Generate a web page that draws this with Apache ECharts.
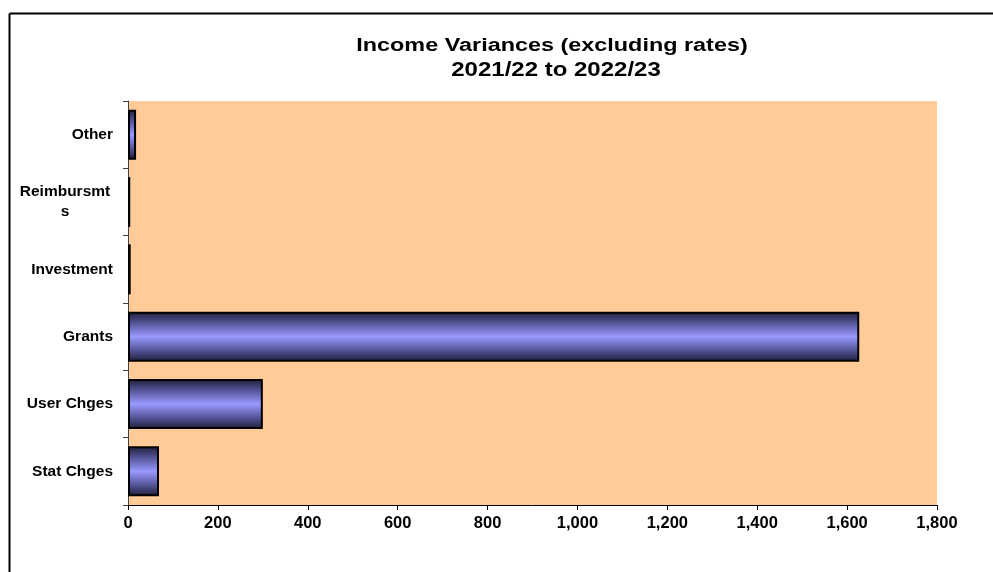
<!DOCTYPE html>
<html>
<head>
<meta charset="utf-8">
<script src="https://cdn.jsdelivr.net/npm/echarts@6/dist/echarts.min.js"></script>
<style>
  html, body { margin: 0; padding: 0; background: #fff; }
  #chart { width: 993px; height: 572px; }
</style>
</head>
<body>
<div id="chart"></div>
<script>
// Income variance categories, bottom to top
const categories = ['Stat Chges', 'User Chges', 'Grants', 'Investment', 'Reimbursmts', 'Other'];
// Variance amounts
const variances = [69, 300, 1627, 6, 5, 18];
// Value axis range and step
const axisMin = 0;
const axisMax = 1800;
const axisStep = 200;
// Chart heading lines
const titleLines = ['Income Variances (excluding rates)', '2021/22 to 2022/23'];

const chart = echarts.init(document.getElementById('chart'));
const font = '"Liberation Sans", Arial, sans-serif';

chart.setOption({
  animation: false,
  backgroundColor: '#ffffff',
  graphic: [
    { type: 'line', shape: { x1: 9.5, y1: 13.5, x2: 993, y2: 13.5 }, style: { stroke: '#000', lineWidth: 2 } },
    { type: 'line', shape: { x1: 9.5, y1: 13.5, x2: 9.5, y2: 572 }, style: { stroke: '#000', lineWidth: 2 } },
    {
      type: 'text', x: 552, y: 55, scaleX: 1.3,
      style: { text: titleLines[0], font: 'bold 18px ' + font, fill: '#000', textAlign: 'center', textVerticalAlign: 'bottom' }
    },
    {
      type: 'text', x: 556, y: 80, scaleX: 1.2,
      style: { text: titleLines[1], font: 'bold 20px ' + font, fill: '#000', textAlign: 'center', textVerticalAlign: 'bottom' }
    }
  ],
  grid: {
    left: 128,
    right: 56,
    top: 101,
    bottom: 67,
    show: true,
    backgroundColor: '#FFCC99',
    borderWidth: 0
  },
  xAxis: {
    type: 'value',
    min: axisMin,
    max: axisMax,
    interval: axisStep,
    splitLine: { show: false },
    axisLine: { show: true, lineStyle: { color: '#000', width: 1 } },
    axisTick: { show: true, length: 5, lineStyle: { color: '#000' } },
    axisLabel: {
      margin: 10,
      fontFamily: font,
      fontWeight: 'bold',
      fontSize: 16.5,
      color: '#000',
      formatter: v => v.toLocaleString('en-US')
    }
  },
  yAxis: {
    type: 'category',
    data: categories,
    axisLine: { show: true, lineStyle: { color: '#444', width: 1 } },
    axisTick: { show: true, length: 5, alignWithLabel: false, lineStyle: { color: '#444' } },
    axisLabel: {
      margin: 15,
      fontFamily: font,
      fontWeight: 'bold',
      fontSize: 15.5,
      color: '#000',
      formatter: v => v === 'Reimbursmts' ? '{w|Reimbursmt\ns}' : v,
      rich: {
        w: {
          fontFamily: font,
          fontWeight: 'bold',
          fontSize: 15.5,
          lineHeight: 20,
          width: 96,
          align: 'center',
          color: '#000'
        }
      }
    }
  },
  series: [{
    type: 'bar',
    data: variances,
    barWidth: 50,
    itemStyle: {
      borderColor: '#000',
      borderWidth: 2,
      color: new echarts.graphic.LinearGradient(0, 0, 0, 1, [
        { offset: 0, color: '#1c1c38' },
        { offset: 0.25, color: '#5a5aa0' },
        { offset: 0.5, color: '#9999ff' },
        { offset: 0.75, color: '#5a5aa0' },
        { offset: 1, color: '#1c1c38' }
      ])
    }
  }]
});
</script>
</body>
</html>
